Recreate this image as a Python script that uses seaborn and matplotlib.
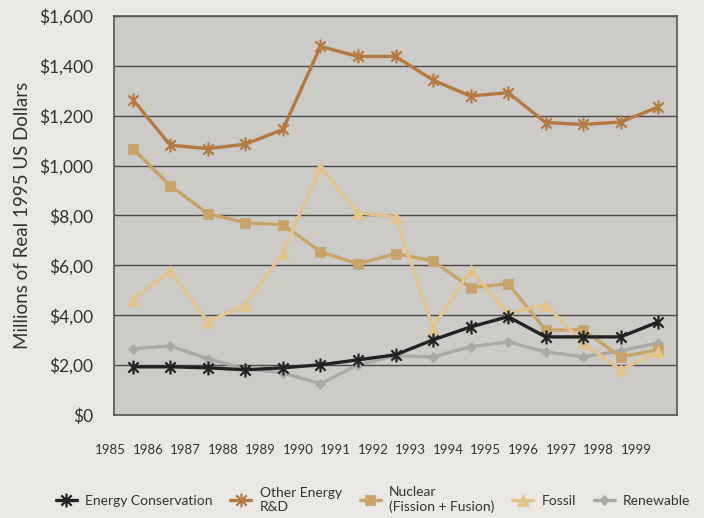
import numpy as np
import pandas as pd
import seaborn as sns
import matplotlib.pyplot as plt
import matplotlib.transforms as mtransforms
from matplotlib.path import Path

sns.set_theme(style="white")
plt.rcParams['font.family'] = ['Lato', 'DejaVu Sans']

years = [str(y) for y in range(1985, 2000)]
energy_conservation = [193, 193, 189, 181, 189, 201, 221, 241, 301, 353, 394, 313, 313, 313, 373]
other_energy = [1265, 1082, 1068, 1086, 1145, 1478, 1438, 1438, 1343, 1279, 1293, 1173, 1165, 1175, 1235]
nuclear = [1068, 920, 807, 771, 763, 655, 606, 647, 618, 510, 526, 341, 341, 233, 261]
fossil = [462, 578, 374, 442, 651, 994, 811, 793, 350, 582, 407, 442, 289, 181, 253]
renewable = [265, 277, 225, 185, 169, 125, 201, 237, 233, 273, 293, 253, 233, 257, 289]

y_ticks = [0, 200, 400, 600, 800, 1000, 1200, 1400, 1600]
y_labels = ['$0', '$2,00', '$4,00', '$6,00', '$8,00', '$1,000', '$1,200', '$1,400', '$1,600']

# excel style star: an x with a vertical bar through it
star = Path([(-1, -1), (1, 1), (-1, 1), (1, -1), (0, -1.35), (0, 1.35)],
            [Path.MOVETO, Path.LINETO, Path.MOVETO, Path.LINETO, Path.MOVETO, Path.LINETO])

series = [
    ("Energy Conservation", energy_conservation, "#222222", star, 10, 5),
    ("Other Energy\nR&D", other_energy, "#b47a42", star, 10, 4),
    ("Nuclear\n(Fission + Fusion)", nuclear, "#c9a468", "s", 7, 2),
    ("Fossil", fossil, "#e2c48e", "^", 8, 3),
    ("Renewable", renewable, "#a9a9a7", "D", 5, 1),
]

fig = plt.figure(figsize=(7.04, 5.18), dpi=100)
fig.patch.set_facecolor("#e9e8e4")
ax = fig.add_axes([0.162, 0.199, 0.7996, 0.770])
ax.set_facecolor("#cccbc7")

pos = np.arange(len(years))
for name, vals, col, mk, ms, z in series:
    df = pd.DataFrame({"x": pos, "y": vals})
    star_mk = mk is star
    sns.lineplot(data=df, x="x", y="y", ax=ax, color=col, linewidth=2.4,
                 marker=mk, markersize=ms, label=name, zorder=z,
                 markeredgecolor=col, markerfacecolor=col,
                 markeredgewidth=1.6 if star_mk else 0.5)

ax.set_ylim(0, 1600)
ax.set_xlim(-0.5, len(years) - 0.5)
ax.set_yticks(y_ticks)
ax.set_yticklabels(y_labels, fontsize=12.5, color="#333333")
ax.set_xticks(np.arange(len(years) + 1) - 0.5)
ax.set_xticklabels(years + [""], fontsize=9.5, color="#333333")
for lab in ax.get_xticklabels():
    lab.set_horizontalalignment("right")
ax.tick_params(axis="x", direction="out", length=6, width=1, color="#555555", pad=15)
ax.tick_params(axis="y", direction="out", length=9, width=1, color="#555555", pad=6)
ax.grid(axis="y", color="#4a4a4a", linewidth=1)
ax.set_axisbelow(True)
for s in ax.spines.values():
    s.set_color("#555555")
    s.set_linewidth(1.2)
ax.set_xlabel("")
ax.set_ylabel("Millions of Real 1995 US Dollars", fontsize=13.5, color="#333333", labelpad=6)

# shift year labels a bit so they sit near the tick like the original
offset = mtransforms.ScaledTranslation(12 / 100, 0, fig.dpi_scale_trans)
for lab in ax.get_xticklabels():
    lab.set_transform(lab.get_transform() + offset)

handles, labels = ax.get_legend_handles_labels()
ax.legend_.remove()
fig.legend(handles, labels, loc="upper center", bbox_to_anchor=(0.53, 0.085), ncol=5,
           frameon=False, fontsize=10, handlelength=1.5, handletextpad=0.6,
           columnspacing=1.3, labelcolor="#333333")

fig.savefig("out.png", dpi=100, facecolor=fig.get_facecolor())
